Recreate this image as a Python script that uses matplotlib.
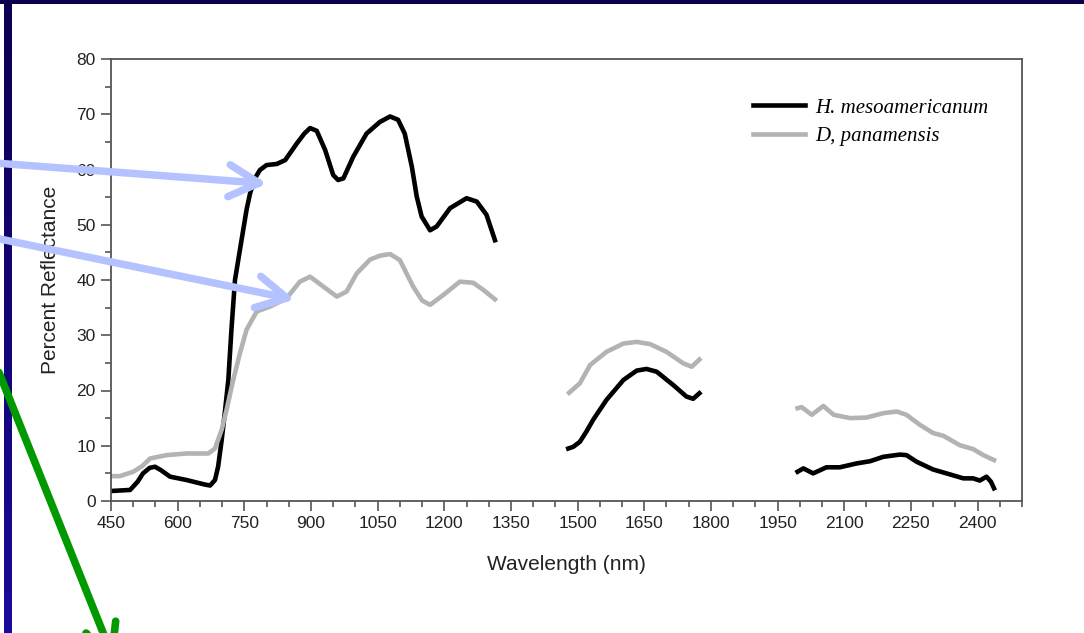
import numpy as np
import matplotlib.pyplot as plt
from matplotlib.patches import Rectangle
from matplotlib.ticker import MultipleLocator

# H. mesoamericanum (black), three measured bands
hm_wl_1 = [448, 470, 493, 510, 522, 537, 549, 562, 583, 620, 660, 673, 684, 691, 699, 706, 714,
           721, 729, 740, 755, 763, 774, 785, 800, 823, 842, 868, 885, 898, 913, 932, 950, 961,
           973, 995, 1025, 1055, 1078, 1096, 1111, 1127, 1138, 1149, 1168, 1183, 1213, 1250,
           1273, 1295, 1314]
hm_1 = [1.8, 1.9, 2.0, 3.5, 5.0, 6.0, 6.2, 5.6, 4.4, 3.8, 3.0, 2.8, 3.8, 6.2, 11.0, 15.9, 21.9,
        31.0, 40.0, 45.4, 52.7, 55.7, 58.4, 59.9, 60.8, 61.0, 61.7, 64.7, 66.5, 67.5, 67.0, 63.5,
        59.0, 58.1, 58.4, 62.3, 66.5, 68.6, 69.6, 69.0, 66.5, 60.5, 55.1, 51.5, 49.0, 49.7, 53.0,
        54.8, 54.2, 51.8, 47.2]
hm_wl_2 = [1479, 1490, 1505, 1520, 1535, 1565, 1603, 1633, 1655, 1678, 1715, 1745, 1760, 1774]
hm_2 = [9.5, 9.8, 10.7, 12.6, 14.7, 18.3, 21.9, 23.6, 23.9, 23.4, 21.0, 18.9, 18.5, 19.5]
hm_wl_3 = [1995, 2008, 2030, 2060, 2090, 2128, 2158, 2188, 2225, 2240, 2263, 2300, 2330, 2368,
           2390, 2405, 2420, 2430, 2437]
hm_3 = [5.3, 5.9, 5.0, 6.1, 6.1, 6.8, 7.2, 8.0, 8.4, 8.3, 7.1, 5.7, 5.0, 4.1, 4.1, 3.7, 4.4,
        3.5, 2.3]

# D. panamensis (grey)
dp_wl_1 = [448, 470, 500, 520, 538, 575, 620, 669, 684, 699, 710, 725, 740, 755, 778, 808, 838,
           845, 875, 898, 928, 958, 980, 1003, 1033, 1055, 1078, 1100, 1130, 1150, 1168, 1198,
           1235, 1265, 1288, 1314]
dp_1 = [4.5, 4.5, 5.3, 6.3, 7.7, 8.3, 8.6, 8.6, 9.5, 12.9, 16.5, 21.9, 26.7, 31.0, 34.3, 35.2,
        36.4, 36.7, 39.7, 40.6, 38.8, 37.0, 37.9, 41.2, 43.7, 44.4, 44.7, 43.6, 38.8, 36.3, 35.5,
        37.3, 39.7, 39.5, 38.2, 36.5]
dp_wl_2 = [1481, 1505, 1528, 1565, 1603, 1633, 1663, 1700, 1738, 1757, 1774]
dp_2 = [19.6, 21.3, 24.6, 27.0, 28.5, 28.8, 28.4, 27.0, 24.9, 24.3, 25.6]
dp_wl_3 = [1995, 2004, 2027, 2053, 2076, 2113, 2150, 2188, 2218, 2240, 2270, 2300, 2323, 2360,
           2390, 2413, 2437]
dp_3 = [16.8, 17.0, 15.6, 17.2, 15.6, 15.0, 15.1, 15.9, 16.2, 15.6, 13.8, 12.3, 11.8, 10.1,
        9.4, 8.3, 7.4]

W, H = 1084, 633
SPINE = '#555555'
ARROW_BLUE = '#b4c3ff'
GREEN = '#009a00'


def draw_arrow(ax, x0, y0, x1, y1, color, lw, arm=34, spread=28):
    # straight shaft with an open chevron head, in figure pixels
    ax.plot([x0, x1], [y0, y1], color=color, lw=lw, solid_capstyle='round')
    back = np.arctan2(y0 - y1, x0 - x1)
    for s in (-1, 1):
        a = back + np.radians(spread) * s
        ax.plot([x1, x1 + arm * np.cos(a)], [y1, y1 + arm * np.sin(a)],
                color=color, lw=lw, solid_capstyle='round')


fig = plt.figure(figsize=(W / 100, H / 100), dpi=100)
fig.patch.set_facecolor('white')

ax = fig.add_axes([111 / W, 132 / H, 911 / W, 442 / H])
ax.plot(hm_wl_1, hm_1, color='black', lw=3.3, label='H. mesoamericanum')
ax.plot(hm_wl_2, hm_2, color='black', lw=3.3)
ax.plot(hm_wl_3, hm_3, color='black', lw=3.3)
ax.plot(dp_wl_1, dp_1, color='#b3b3b3', lw=3.3, label='D, panamensis')
ax.plot(dp_wl_2, dp_2, color='#b3b3b3', lw=3.3)
ax.plot(dp_wl_3, dp_3, color='#b3b3b3', lw=3.3)

ax.set_xlim(450, 2500)
ax.set_ylim(0, 80)
ax.xaxis.set_minor_locator(MultipleLocator(50))
ax.yaxis.set_major_locator(MultipleLocator(10))
ax.yaxis.set_minor_locator(MultipleLocator(5))
ax.set_xticks(np.arange(450, 2401, 150))
ax.tick_params(which='major', length=7, width=1.2, color=SPINE, labelsize=12.5,
               labelcolor='#222222', pad=4)
ax.tick_params(which='minor', length=4, width=1.2, color=SPINE)
for sp in ax.spines.values():
    sp.set_color(SPINE)
    sp.set_linewidth(1.3)
for lab in ax.get_xticklabels() + ax.get_yticklabels():
    lab.set_family('Liberation Sans')

ax.set_xlabel('Wavelength (nm)', fontsize=15, family='Liberation Sans', color='#222222',
              labelpad=17)
ax.set_ylabel('Percent Reflectance', fontsize=15, family='Liberation Sans', color='#222222',
              labelpad=12)

leg = ax.legend(loc='upper left', bbox_to_anchor=((753 - 111) / 911, (501 - 98) / 442),
                frameon=False, borderaxespad=0, borderpad=0, handlelength=2.5,
                handletextpad=0.48, labelspacing=0.42,
                prop={'family': 'Liberation Serif', 'style': 'italic', 'size': 15})

# slide decorations drawn over the chart, in pixel coordinates
over = fig.add_axes([0, 0, 1, 1], zorder=10)
over.axis('off')
over.patch.set_alpha(0)

over.add_patch(Rectangle((0, 0), W, 4, color='#0b0050', lw=0))
grad = np.linspace(0, 1, 256)[:, None]
cmap = plt.matplotlib.colors.LinearSegmentedColormap.from_list('bar', ['#0b0050', '#1a0a9a'])
over.imshow(grad, cmap=cmap, extent=(4, 12, H, 0), aspect='auto')

draw_arrow(over, -5, 163, 259, 183, ARROW_BLUE, 5.4)
draw_arrow(over, -5, 238, 287, 298, ARROW_BLUE, 5.4)
draw_arrow(over, -10, 350, 112, 655, GREEN, 5.5)

over.set_xlim(0, W)
over.set_ylim(H, 0)

fig.savefig('out.png', dpi=100)
